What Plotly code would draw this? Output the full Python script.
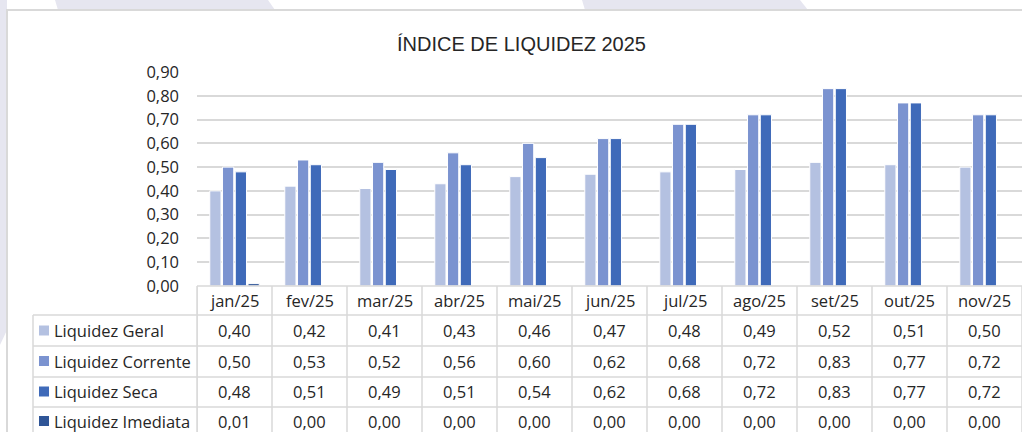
import plotly.graph_objects as go

categories = ["jan/25", "fev/25", "mar/25", "abr/25", "mai/25", "jun/25",
              "jul/25", "ago/25", "set/25", "out/25", "nov/25"]
liq_geral = [0.40, 0.42, 0.41, 0.43, 0.46, 0.47, 0.48, 0.49, 0.52, 0.51, 0.50]
liq_corrente = [0.50, 0.53, 0.52, 0.56, 0.60, 0.62, 0.68, 0.72, 0.83, 0.77, 0.72]
liq_seca = [0.48, 0.51, 0.49, 0.51, 0.54, 0.62, 0.68, 0.72, 0.83, 0.77, 0.72]
liq_imediata = [0.01, 0.00, 0.00, 0.00, 0.00, 0.00, 0.00, 0.00, 0.00, 0.00, 0.00]

series_names = ["Liquidez Geral", "Liquidez Corrente", "Liquidez Seca", "Liquidez Imediata"]
series_values = [liq_geral, liq_corrente, liq_seca, liq_imediata]
series_colors = ["#B4C1E1", "#7B93D0", "#3F6AB9", "#2F5597"]

title_text = "ÍNDICE DE LIQUIDEZ 2025"

W, H = 1022, 432
L, R, T, B = 197, 0, 72, 146
PW, PH = W - L - R, H - T - B
FONT = "Open Sans, Segoe UI, sans-serif"
FS = 16.5
GRID = "#D9D9D9"
TXT = "#262626"


def px(x):
    return (x - L) / PW


def py(y):
    return (H - B - y) / PH


fig = go.Figure()
for name, vals, col in zip(series_names, series_values, series_colors):
    fig.add_trace(go.Bar(x=categories, y=vals, name=name,
                         marker=dict(color=col, line=dict(color="white", width=1))))

shapes = []
# page background decoration
lav = "#E6E6F0"
shapes.append(dict(type="path", xref="paper", yref="paper", layer="below",
                   path=f"M {px(0)},{py(0)} L {px(7)},{py(0)} L {px(7)},{py(330)} L {px(0)},{py(345)} Z",
                   fillcolor=lav, line=dict(width=0)))
shapes.append(dict(type="path", xref="paper", yref="paper", layer="below",
                   path=f"M {px(55)},{py(0)} L {px(268)},{py(0)} L {px(275)},{py(10)} L {px(58)},{py(10)} Z",
                   fillcolor=lav, line=dict(width=0)))
shapes.append(dict(type="path", xref="paper", yref="paper", layer="below",
                   path=f"M {px(582)},{py(0)} L {px(800)},{py(0)} L {px(808)},{py(10)} L {px(585)},{py(10)} Z",
                   fillcolor=lav, line=dict(width=0)))
# chart area
shapes.append(dict(type="rect", xref="paper", yref="paper", layer="below",
                   x0=px(7), x1=px(1040), y0=py(10), y1=py(450),
                   fillcolor="white", line=dict(color=GRID, width=2)))

# table lines
row_lines = [286, 315, 346, 377, 407, 438]
for i, yl in enumerate(row_lines):
    x0 = px(197) if i == 0 else px(33)
    shapes.append(dict(type="line", xref="paper", yref="paper",
                       x0=x0, x1=1.0, y0=py(yl), y1=py(yl),
                       line=dict(color=GRID, width=1.5)))
for i in range(len(categories) + 1):
    shapes.append(dict(type="line", xref="x", yref="paper",
                       x0=i - 0.5, x1=i - 0.5, y0=py(286), y1=py(445),
                       line=dict(color=GRID, width=1.5)))
shapes.append(dict(type="line", xref="paper", yref="paper",
                   x0=px(33), x1=px(33), y0=py(315), y1=py(445),
                   line=dict(color=GRID, width=1.5)))
shapes.append(dict(type="line", xref="paper", yref="paper",
                   x0=px(197), x1=px(197), y0=py(286), y1=py(445),
                   line=dict(color=GRID, width=1.5)))

annotations = []
# header row
for c in categories:
    annotations.append(dict(x=c, xref="x", y=py(300.5), yref="paper", text=c,
                            showarrow=False, font=dict(family=FONT, size=FS, color=TXT),
                            xanchor="center", yanchor="middle"))
row_centers = [330.5, 361, 391.5, 421]
for name, vals, col, yc in zip(series_names, series_values, series_colors, row_centers):
    shapes.append(dict(type="rect", xref="paper", yref="paper",
                       x0=px(39), x1=px(49), y0=py(yc - 5), y1=py(yc + 5),
                       fillcolor=col, line=dict(width=0)))
    annotations.append(dict(x=px(52), xref="paper", y=py(yc), yref="paper", text=name,
                            showarrow=False, font=dict(family=FONT, size=FS, color=TXT),
                            xanchor="left", yanchor="middle"))
    for c, v in zip(categories, vals):
        annotations.append(dict(x=c, xref="x", y=py(yc), yref="paper",
                                text=f"{v:.2f}".replace(".", ","),
                                showarrow=False, font=dict(family=FONT, size=FS, color=TXT),
                                xanchor="center", yanchor="middle"))

fig.update_layout(
    width=W, height=H,
    margin=dict(l=L, r=R, t=T, b=B, pad=0),
    paper_bgcolor="white", plot_bgcolor="rgba(0,0,0,0)",
    barmode="group", bargap=0.32, bargroupgap=0.12,
    showlegend=False,
    separators=",.",
    title=dict(text=title_text, xref="container", x=521.5 / W, xanchor="center",
               yref="container", y=1 - 44 / H, yanchor="middle",
               font=dict(family="Liberation Sans, Arial, sans-serif", size=20, color=TXT)),
    xaxis=dict(showticklabels=False, showgrid=False, zeroline=False, showline=False,
               ticks="", range=[-0.5, len(categories) - 0.5]),
    yaxis=dict(range=[0, 0.9], dtick=0.1, tick0=0, tickformat=".2f",
               showgrid=True, gridcolor=GRID, gridwidth=1.5,
               zeroline=False, showline=False, ticks="",
               ticklabelstandoff=17,
               tickfont=dict(family=FONT, size=FS, color=TXT)),
    shapes=shapes, annotations=annotations,
)

fig.write_html("out.html", config={"displayModeBar": False},
               post_script="document.body.style.margin='0';document.body.style.overflow='hidden';")
